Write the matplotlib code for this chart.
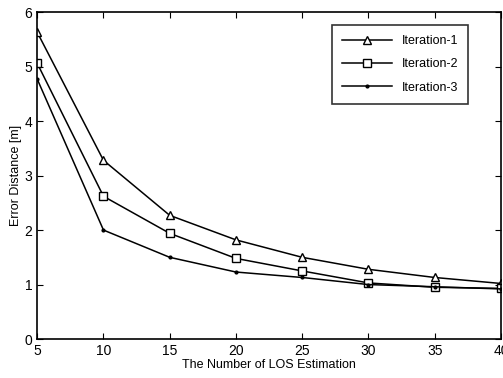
import numpy as np
import matplotlib.pyplot as plt

plt.rcParams['font.family'] = ['Liberation Sans', 'DejaVu Sans']

n_los = [5, 10, 15, 20, 25, 30, 35, 40]
iter1 = [5.63, 3.28, 2.27, 1.82, 1.50, 1.28, 1.13, 1.02]
iter2 = [5.06, 2.62, 1.94, 1.48, 1.25, 1.03, 0.95, 0.93]
iter3 = [4.77, 2.00, 1.50, 1.23, 1.13, 1.00, 0.96, 0.92]

fig = plt.figure(figsize=(5.03, 3.78), dpi=100)
ax = fig.add_axes([0.074, 0.103, 0.922, 0.865])

ax.plot(n_los, iter1, 'k-^', mfc='white', ms=6, lw=1.1, label='Iteration-1')
ax.plot(n_los, iter2, 'k-s', mfc='white', ms=6, lw=1.1, label='Iteration-2')
ax.plot(n_los, iter3, 'k-', marker='.', ms=4, lw=1.1, label='Iteration-3')

ax.set_xlim(5, 40)
ax.set_ylim(0, 6)
ax.set_xticks(n_los)
ax.set_yticks(range(7))
ax.tick_params(direction='in', top=True, right=True, labelsize=10, length=4)
for s in ax.spines.values():
    s.set_linewidth(1.2)

ax.set_xlabel('The Number of LOS Estimation', fontsize=9, labelpad=1)
ax.set_ylabel('Error Distance [m]', fontsize=9, labelpad=2)

leg = ax.legend(loc='upper right', bbox_to_anchor=(0.929, 0.96), borderaxespad=0,
                fontsize=9, frameon=True, fancybox=False, edgecolor='black',
                handlelength=4, borderpad=0.8, labelspacing=0.9)
leg.get_frame().set_linewidth(1.2)

fig.savefig('out.png', dpi=100)
